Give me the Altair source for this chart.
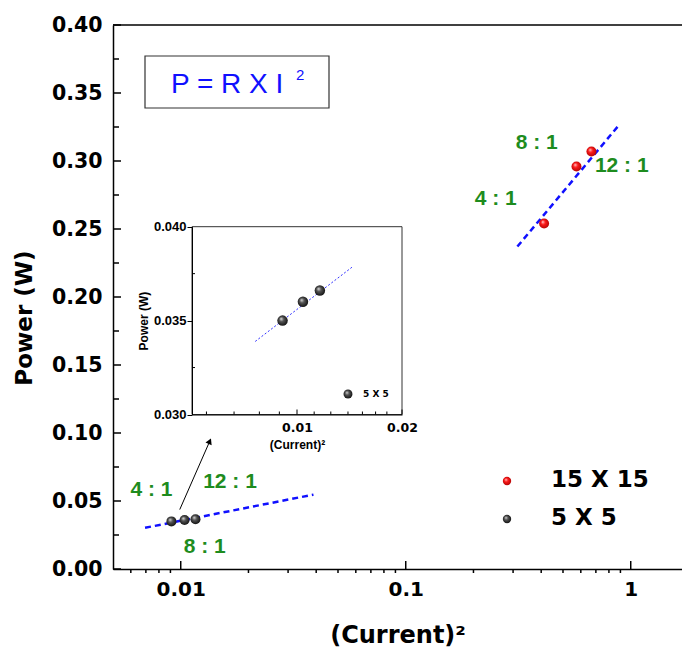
import altair as alt
import pandas as pd

# ---------------- data ----------------
series = ["15 X 15", "5 X 5"]
red_x = [0.412, 0.574, 0.669]
red_y = [0.254, 0.296, 0.307]
blk_x = [0.00909, 0.01040, 0.01163]
blk_y = [0.0350, 0.0360, 0.0366]

red_fit_x = [0.3135, 0.896]
red_fit_y = [0.2371, 0.3273]
blk_fit_x = [0.00694, 0.0389]
blk_fit_y = [0.0303, 0.0547]
inset_fit_x = [0.00759, 0.01437]
inset_fit_y = [0.03389, 0.03784]

ratio_labels = ["4 : 1", "8 : 1", "12 : 1"]
red_lab_x = [0.251, 0.382, 0.912]
red_lab_y = [0.2722, 0.3135, 0.2964]
blk_lab_x = [0.00741, 0.01278, 0.01656]
blk_lab_y = [0.0584, 0.0163, 0.0638]

arrow_x = [0.0099, 0.01346]
arrow_y = [0.0437, 0.0940]

x_domain = [0.005, 1.69]
y_domain = [0.0, 0.40]
x_major = [0.01, 0.1, 1]
x_minor = [0.006, 0.007, 0.008, 0.009, 0.02, 0.03, 0.04, 0.05, 0.06, 0.07, 0.08, 0.09,
           0.2, 0.3, 0.4, 0.5, 0.6, 0.7, 0.8, 0.9]
y_major = [0.00, 0.05, 0.10, 0.15, 0.20, 0.25, 0.30, 0.35, 0.40]
y_minor = [0.025, 0.075, 0.125, 0.175, 0.225, 0.275, 0.325, 0.375]

inset_x_domain = [0.005, 0.02]
inset_y_domain = [0.030, 0.040]
inset_x_major = [0.01, 0.02]
inset_x_minor = [0.0055, 0.0066, 0.0078, 0.0089, 0.0112, 0.0125, 0.0140, 0.0154, 0.0168, 0.0181]
inset_y_major = [0.030, 0.035, 0.040]
inset_y_minor = [0.0325, 0.0375]

x_title = "(Current)²"
y_title = "Power (W)"
equation = "P = R X I"
equation_sup = "2"

# ---------------- layout ----------------
W, H = 569, 544
BLUE = "#1010ff"
GREEN = "#1e8c1e"


def sphere(light, base, dark):
    return alt.RadialGradient(
        gradient="radial", x1=0.36, y1=0.32, r1=0.0, x2=0.5, y2=0.5, r2=0.62,
        stops=[alt.GradientStop(offset=0.0, color=light),
               alt.GradientStop(offset=0.35, color=base),
               alt.GradientStop(offset=1.0, color=dark)])


RED_S = sphere("#ffe0e0", "#ff1a1a", "#a00000")
BLK_S = sphere("#e8e8e8", "#555555", "#000000")

XS = alt.Scale(type="log", domain=x_domain, nice=False)
YS = alt.Scale(domain=y_domain, nice=False, zero=False)
XAX = alt.Axis(values=x_major, format="~g", ticks=False, grid=False, title=x_title,
               labelFont="DejaVu Sans", labelFontWeight="bold", labelFontSize=20,
               labelColor="black", labelPadding=10, labelFlush=False,
               titleFont="DejaVu Sans", titleFontWeight="bold", titleFontSize=24,
               titleColor="black", titlePadding=24, domainColor="black", domainWidth=1.5)
YAX = alt.Axis(values=y_major, format=".2f", ticks=False, grid=False, title=None,
               labelFont="DejaVu Sans", labelFontWeight="bold", labelFontSize=20.5,
               labelColor="black", labelPadding=11,
               domainColor="black", domainWidth=1.5)

IXS = alt.Scale(type="log", domain=inset_x_domain, nice=False, range=[79, 289])
IYS = alt.Scale(domain=inset_y_domain, nice=False, zero=False, range=[389.5, 201.7])
IXAX = alt.Axis(orient="bottom", offset=-154.5, values=inset_x_major, format="~g", ticks=False,
                grid=False, title=x_title, zindex=1,
                labelFont="DejaVu Sans", labelFontWeight="bold", labelFontSize=12.5,
                labelColor="black", labelPadding=7, labelFlush=False,
                titleFont="Liberation Sans", titleFontWeight="bold", titleFontSize=12,
                titleColor="black", titlePadding=5, domainColor="black", domainWidth=1)
IYAX = alt.Axis(orient="left", offset=-79, values=inset_y_major, format=".3f", tickSize=5,
                tickColor="black", grid=False, title=y_title, zindex=1,
                labelFont="Liberation Sans", labelFontWeight="bold", labelFontSize=13,
                labelColor="black", labelPadding=1, labelFlush=False,
                titleFont="Liberation Sans", titleFontWeight="bold", titleFontSize=12,
                titleColor="black", titlePadding=3, domainColor="black", domainWidth=1)


def X(f):
    return alt.X(f, type="quantitative", scale=XS, axis=XAX)


def Y(f):
    return alt.Y(f, type="quantitative", scale=YS, axis=YAX)


def IX(f):
    return alt.X(f, type="quantitative", scale=IXS, axis=IXAX)


def IY(f):
    return alt.Y(f, type="quantitative", scale=IYS, axis=IYAX)


one = pd.DataFrame({"a": [0]})

# ---------------- main panel ----------------
top_line = alt.Chart(one).mark_rule(color="black", strokeWidth=1.5).encode(
    x=alt.value(0), x2=alt.value(W), y=alt.value(0))

ytick_major = alt.Chart(pd.DataFrame({"v": y_major})).mark_rule(color="black", strokeWidth=1.5).encode(
    y=Y("v"), x=alt.value(0), x2=alt.value(8))
ytick_minor = alt.Chart(pd.DataFrame({"v": y_minor})).mark_rule(color="black", strokeWidth=1.5).encode(
    y=Y("v"), x=alt.value(0), x2=alt.value(6))
xtick_major = alt.Chart(pd.DataFrame({"v": x_major})).mark_rule(color="black", strokeWidth=1.5).encode(
    x=X("v"), y=alt.value(H), y2=alt.value(H - 8))
xtick_minor = alt.Chart(pd.DataFrame({"v": x_minor})).mark_rule(color="black", strokeWidth=1.5).encode(
    x=X("v"), y=alt.value(H), y2=alt.value(H + 4))

y_title_mark = alt.Chart(one).mark_text(text=y_title, font="DejaVu Sans", fontWeight="bold",
                                        fontSize=23, color="black", angle=270,
                                        align="center", baseline="middle").encode(
    x=alt.value(-88), y=alt.value(293))

fit_df = pd.DataFrame({"x": red_fit_x + blk_fit_x, "y": red_fit_y + blk_fit_y,
                       "s": [series[0]] * 2 + [series[1]] * 2})
fits = alt.Chart(fit_df).mark_line(color=BLUE, strokeWidth=2.5, strokeDash=[6, 4]).encode(
    x=X("x"), y=Y("y"), detail="s:N")

red_pts = alt.Chart(pd.DataFrame({"x": red_x, "y": red_y})).mark_circle(
    fill=RED_S, opacity=1, size=100).encode(x=X("x"), y=Y("y"))
blk_pts = alt.Chart(pd.DataFrame({"x": blk_x, "y": blk_y})).mark_circle(
    fill=BLK_S, opacity=1, size=100).encode(x=X("x"), y=Y("y"))

lab_df = pd.DataFrame({"x": red_lab_x + blk_lab_x, "y": red_lab_y + blk_lab_y,
                       "t": ratio_labels + ratio_labels})
labels = alt.Chart(lab_df).mark_text(font="Liberation Sans", fontWeight="bold", fontSize=21,
                                     color=GREEN, align="center", baseline="middle").encode(
    x=X("x"), y=Y("y"), text="t:N")

arrow = alt.Chart(pd.DataFrame({"x": [arrow_x[0]], "x2": [arrow_x[1]],
                                "y": [arrow_y[0]], "y2": [arrow_y[1]]})).mark_rule(
    color="black", strokeWidth=1).encode(x=X("x"), x2="x2", y=Y("y"), y2="y2")
arrow_head = alt.Chart(pd.DataFrame({"x": [arrow_x[1]], "y": [arrow_y[1]]})).mark_point(
    shape="triangle-up", filled=True, color="black", opacity=1, size=45, angle=24).encode(
    x=X("x"), y=Y("y"))

eq_box = alt.Chart(one).mark_rect(fill="white", stroke="#333333", strokeWidth=1.2).encode(
    x=alt.value(32), x2=alt.value(216), y=alt.value(31), y2=alt.value(83))
eq_text = alt.Chart(one).mark_text(text=equation, font="Liberation Sans", fontSize=28,
                                   color=BLUE, align="left", baseline="alphabetic").encode(
    x=alt.value(58), y=alt.value(68))
eq_sup = alt.Chart(one).mark_text(text=equation_sup, font="Liberation Sans", fontSize=15,
                                  color=BLUE, align="left", baseline="alphabetic").encode(
    x=alt.value(183), y=alt.value(55))

leg_red = alt.Chart(one).mark_circle(fill=RED_S, opacity=1, size=70).encode(
    x=alt.value(394), y=alt.value(456))
leg_blk = alt.Chart(one).mark_circle(fill=BLK_S, opacity=1, size=70).encode(
    x=alt.value(394), y=alt.value(494))
leg_t1 = alt.Chart(one).mark_text(text=series[0], font="DejaVu Sans", fontWeight="bold",
                                  fontSize=23, color="black", align="left", baseline="middle").encode(
    x=alt.value(438), y=alt.value(455))
leg_t2 = alt.Chart(one).mark_text(text=series[1], font="DejaVu Sans", fontWeight="bold",
                                  fontSize=23, color="black", align="left", baseline="middle").encode(
    x=alt.value(438), y=alt.value(493))

main = alt.layer(top_line, ytick_major, ytick_minor, xtick_major, xtick_minor, y_title_mark,
                 fits, arrow, arrow_head, red_pts, blk_pts, labels, eq_box, eq_text, eq_sup,
                 leg_red, leg_blk, leg_t1, leg_t2)

# ---------------- inset ----------------
frame = alt.Chart(pd.DataFrame({"x0": [inset_x_domain[0]], "x1": [inset_x_domain[1]],
                                "y0": [inset_y_domain[0]], "y1": [inset_y_domain[1]]})).mark_rect(
    fill="white", stroke="#333333", strokeWidth=1).encode(x=IX("x0"), x2="x1", y=IY("y0"), y2="y1")
ix_major = alt.Chart(pd.DataFrame({"v": inset_x_major})).mark_rule(color="black", strokeWidth=1).encode(
    x=IX("v"), y=alt.value(389.5), y2=alt.value(384.5))
ix_minor = alt.Chart(pd.DataFrame({"v": inset_x_minor})).mark_rule(color="black", strokeWidth=1).encode(
    x=IX("v"), y=alt.value(389.5), y2=alt.value(386.5))
iy_minor = alt.Chart(pd.DataFrame({"v": inset_y_minor})).mark_rule(color="black", strokeWidth=1).encode(
    y=IY("v"), x=alt.value(79), x2=alt.value(82))
ifit = alt.Chart(pd.DataFrame({"x": inset_fit_x, "y": inset_fit_y})).mark_line(
    color="#3030ff", strokeWidth=1, strokeDash=[2, 2]).encode(x=IX("x"), y=IY("y"))
ipts = alt.Chart(pd.DataFrame({"x": blk_x, "y": blk_y})).mark_circle(
    fill=BLK_S, opacity=1, size=110).encode(x=IX("x"), y=IY("y"))
ileg = alt.Chart(one).mark_circle(fill=BLK_S, opacity=1, size=80).encode(
    x=alt.value(235), y=alt.value(369))
ileg_t = alt.Chart(one).mark_text(text=series[1], font="DejaVu Sans", fontWeight="bold",
                                  fontSize=9, color="black", align="left", baseline="middle").encode(
    x=alt.value(250), y=alt.value(369))

inset = alt.layer(frame, ix_major, ix_minor, iy_minor, ifit, ipts, ileg, ileg_t)

chart = alt.layer(main, inset).resolve_scale(x="independent", y="independent").properties(
    width=W, height=H,
    autosize=alt.AutoSizeParams(type="none"),
    padding={"left": 105, "top": 17, "right": 0, "bottom": 78},
    background="white",
).configure_view(stroke=None)

chart.save("out.html", embed_options={"renderer": "svg", "actions": False})
